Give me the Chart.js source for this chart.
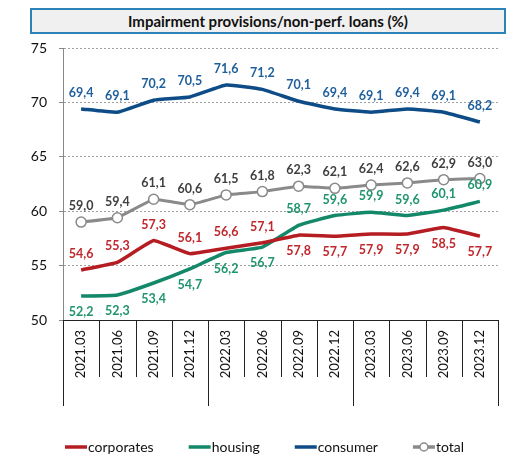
<!DOCTYPE html>
<html>
<head>
<meta charset="utf-8">
<script src="https://cdn.jsdelivr.net/npm/chart.js@4.4.1/dist/chart.umd.min.js"></script>
<style>
  body { margin: 0; background: #fff; font-family: Lato, sans-serif; }
  #wrap { position: relative; width: 511px; height: 458px; }
  #title {
    position: absolute; left: 30px; top: 8px; width: 476px; height: 26px;
    box-sizing: border-box; border: 2px solid #2b83ba; background: #f0f0f0;
    font: bold 15px Lato, sans-serif; color: #111; text-align: center; line-height: 22px;
  }
</style>
</head>
<body>
<div id="wrap">
  <canvas id="chart"></canvas>
  <div id="title">Impairment provisions/non-perf. loans (%)</div>
</div>
<script>
const periods = ["2021.03", "2021.06", "2021.09", "2021.12", "2022.03", "2022.06",
  "2022.09", "2022.12", "2023.03", "2023.06", "2023.09", "2023.12"];
const corporates = [54.6, 55.3, 57.3, 56.1, 56.6, 57.1, 57.8, 57.7, 57.9, 57.9, 58.5, 57.7];
const housing = [52.2, 52.3, 53.4, 54.7, 56.2, 56.7, 58.7, 59.6, 59.9, 59.6, 60.1, 60.9];
const consumer = [69.4, 69.1, 70.2, 70.5, 71.6, 71.2, 70.1, 69.4, 69.1, 69.4, 69.1, 68.2];
const total = [59.0, 59.4, 61.1, 60.6, 61.5, 61.8, 62.3, 62.1, 62.4, 62.6, 62.9, 63.0];
const yTicks = [50, 55, 60, 65, 70, 75];

// which labels go under the line
const labelBelow = {
  corporates: i => i >= 6,
  housing: i => i < 6,
  consumer: () => false,
  total: () => false
};

const fmt = v => v.toFixed(1).replace(".", ",");

const extras = {
  id: "extras",
  afterDatasetsDraw(chart) {
    const ctx = chart.ctx;
    ctx.save();
    ctx.font = "bold 12.5px Lato";
    ctx.textAlign = "center";
    ctx.textBaseline = "middle";
    chart.data.datasets.forEach((ds, d) => {
      const meta = chart.getDatasetMeta(d);
      ctx.fillStyle = ds.labelColor;
      meta.data.forEach((pt, i) => {
        const below = labelBelow[ds.label](i);
        ctx.fillText(fmt(ds.data[i]), pt.x, below ? pt.y + 16 : pt.y - 16);
      });
    });
    ctx.restore();
  },
  afterDraw(chart) {
    const ctx = chart.ctx;
    const xs = chart.scales.x;
    const area = chart.chartArea;
    ctx.save();
    // category separators below the axis, longer at year changes
    ctx.strokeStyle = "#222";
    ctx.lineWidth = 1;
    for (let k = 0; k <= periods.length; k++) {
      let x;
      if (k === 0) x = area.left;
      else if (k === periods.length) x = area.right;
      else x = (xs.getPixelForValue(k - 1) + xs.getPixelForValue(k)) / 2;
      const yearEdge = k === 0 || k === periods.length ||
        periods[k].slice(0, 4) !== periods[k - 1].slice(0, 4);
      ctx.beginPath();
      ctx.moveTo(Math.round(x) + 0.5, area.bottom);
      ctx.lineTo(Math.round(x) + 0.5, yearEdge ? 406 : 377);
      ctx.stroke();
    }
    // legend
    ctx.font = "14px Lato";
    ctx.textBaseline = "middle";
    ctx.textAlign = "left";
    let x = 65;
    const y = 447;
    chart.data.datasets.forEach(ds => {
      ctx.strokeStyle = ds.borderColor;
      ctx.lineWidth = 3.5;
      ctx.beginPath();
      ctx.moveTo(x, y);
      ctx.lineTo(x + 22, y);
      ctx.stroke();
      if (ds.pointRadius > 0) {
        ctx.fillStyle = "#fff";
        ctx.lineWidth = 1.5;
        ctx.beginPath();
        ctx.arc(x + 11, y, 4, 0, Math.PI * 2);
        ctx.fill();
        ctx.stroke();
      }
      ctx.fillStyle = "#111";
      ctx.fillText(ds.label, x + 23, y);
      x += 23 + ctx.measureText(ds.label).width + 35;
    });
    ctx.restore();
  }
};

new Chart(document.getElementById("chart"), {
  type: "line",
  data: {
    labels: periods,
    datasets: [
      {
        label: "corporates",
        data: corporates,
        borderColor: "#b51d23",
        labelColor: "#c0282d",
        borderWidth: 3.5,
        pointRadius: 0,
        tension: 0.08
      },
      {
        label: "housing",
        data: housing,
        borderColor: "#14896a",
        labelColor: "#1f946f",
        borderWidth: 3.5,
        pointRadius: 0,
        tension: 0.12
      },
      {
        label: "consumer",
        data: consumer,
        borderColor: "#0d4c86",
        labelColor: "#1f5f9c",
        borderWidth: 3.5,
        pointRadius: 0,
        tension: 0.12
      },
      {
        label: "total",
        data: total,
        borderColor: "#8a8a8a",
        labelColor: "#404040",
        borderWidth: 3,
        pointRadius: 5,
        pointBackgroundColor: "#fff",
        pointBorderColor: "#8a8a8a",
        pointBorderWidth: 1.5,
        tension: 0.08
      }
    ]
  },
  options: {
    responsive: true,
    maintainAspectRatio: false,
    animation: false,
    layout: {
      padding: { top: 48, right: 13, left: 0, bottom: 0 }
    },
    plugins: {
      legend: { display: false },
      tooltip: { enabled: false }
    },
    scales: {
      x: {
        offset: true,
        grid: { display: false, drawTicks: false },
        border: { color: "#222", width: 1 },
        ticks: {
          color: "#111",
          font: { family: "Lato", size: 13 },
          minRotation: 90,
          maxRotation: 90,
          autoSkip: false,
          padding: 10
        },
        afterFit(scale) { scale.height = 138; }
      },
      y: {
        min: 50,
        max: 75,
        afterBuildTicks(scale) { scale.ticks = yTicks.map(v => ({ value: v })); },
        grid: {
          color: c => c.tick && c.tick.value === 50 ? "rgba(0,0,0,0)" : "#a0a0a0",
          tickColor: "#888",
          tickLength: 4,
          tickBorderDash: [],
          drawTicks: true
        },
        border: { color: "#888", width: 1, dash: [2, 2] },
        ticks: {
          color: "#111",
          font: { family: "Lato", size: 14 },
          padding: 12
        },
        afterFit(scale) { scale.width = 63; }
      }
    }
  },
  plugins: [extras]
});
</script>
</body>
</html>
